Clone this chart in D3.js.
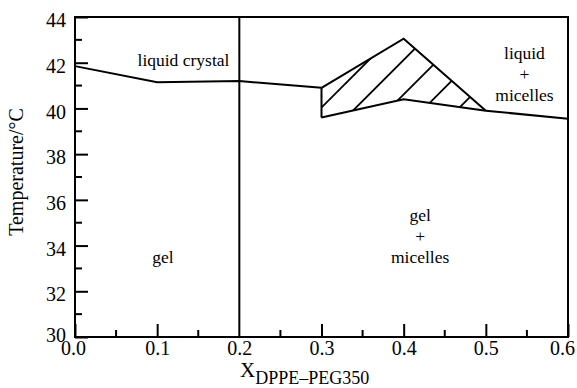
<!DOCTYPE html>
<html>
<head>
<meta charset="utf-8">
<script src="https://cdn.jsdelivr.net/npm/d3@7/dist/d3.min.js"></script>
</head>
<body style="margin:0">
<script>
// gel / liquid crystal boundary
var lcX = [0.0, 0.1, 0.2, 0.3]
var lcT = [41.85, 41.15, 41.2, 40.9]
// hatched coexistence region (upper and lower edges)
var hatchUpX = [0.3, 0.4, 0.5]
var hatchUpT = [40.9, 43.05, 39.9]
var hatchLoX = [0.3, 0.4, 0.5]
var hatchLoT = [39.6, 40.4, 39.9]
// liquid + micelles boundary
var micX = [0.5, 0.6]
var micT = [39.9, 39.55]
// vertical phase boundary
var vertX = 0.2

var xTicks = [0, 0.1, 0.2, 0.3, 0.4, 0.5, 0.6]
var xMinor = [0.05, 0.15, 0.25, 0.35, 0.45, 0.55]
var yTicks = [30, 32, 34, 36, 38, 40, 42, 44]
var yMinor = [31, 33, 35, 37, 39, 41, 43]

var FONT = "Liberation Serif"
var width = 577, height = 388
var margin = {top: 17, right: 9, bottom: 51, left: 75}

var svg = d3.select("body").append("svg").attr("width", width).attr("height", height)
    .style("font-family", FONT)

var x = d3.scaleLinear().domain([0, 0.6]).range([margin.left, width - margin.right])
var y = d3.scaleLinear().domain([30, 44]).range([height - margin.bottom, margin.top])

var line = d3.line().x(function(d){ return x(d[0]) }).y(function(d){ return y(d[1]) })

function pairs(xs, ys){ return xs.map(function(v, i){ return [v, ys[i]] }) }

// hatched polygon
var poly = pairs(hatchUpX, hatchUpT).concat(pairs(hatchLoX, hatchLoT).reverse())
svg.append("clipPath").attr("id", "hclip").append("path").attr("d", line(poly) + "Z")
var hg = svg.append("g").attr("clip-path", "url(#hclip)")
var c0 = x(0.3) + y(39.6) - 10
for (var k = 0; k < 8; k++){
    var c = c0 + k * 34.5
    hg.append("line").attr("x1", c - 300).attr("y1", 300).attr("x2", c).attr("y2", 0)
      .attr("stroke", "#000").attr("stroke-width", 1.8)
}
svg.append("path").attr("d", line(pairs(hatchUpX, hatchUpT)))
   .attr("fill", "none").attr("stroke", "#000").attr("stroke-width", 2)
svg.append("path").attr("d", line(pairs(hatchLoX, hatchLoT)))
   .attr("fill", "none").attr("stroke", "#000").attr("stroke-width", 2)
svg.append("path").attr("d", line([[0.3, hatchUpT[0]], [0.3, hatchLoT[0]]]))
   .attr("fill", "none").attr("stroke", "#000").attr("stroke-width", 2)

svg.append("path").attr("d", line(pairs(lcX, lcT)))
   .attr("fill", "none").attr("stroke", "#000").attr("stroke-width", 2)
svg.append("path").attr("d", line(pairs(micX, micT)))
   .attr("fill", "none").attr("stroke", "#000").attr("stroke-width", 2)
svg.append("line").attr("x1", x(vertX)).attr("x2", x(vertX)).attr("y1", y(30)).attr("y2", y(44))
   .attr("stroke", "#000").attr("stroke-width", 2)

// frame
svg.append("rect").attr("x", x(0)).attr("y", y(44)).attr("width", x(0.6) - x(0)).attr("height", y(30) - y(44))
   .attr("fill", "none").attr("stroke", "#000").attr("stroke-width", 2)

// axes (ticks inside)
var xAxis = d3.axisBottom(x).tickValues(xTicks).tickSize(-13).tickPadding(4).tickFormat(d3.format(".1f"))
var gx = svg.append("g").attr("transform", "translate(0," + y(30) + ")").call(xAxis)
gx.selectAll(".tick line").filter(function(d){ return d === 0.2 }).remove()
gx.append("g").selectAll("line").data(xMinor).enter().append("line")
  .attr("x1", function(d){ return x(d) }).attr("x2", function(d){ return x(d) })
  .attr("y1", 0).attr("y2", -7).attr("stroke", "#000").attr("stroke-width", 2)
gx.selectAll(".tick text").filter(function(d){ return d === 0 }).attr("dx", -2)
gx.selectAll(".tick text").filter(function(d){ return d === 0.6 }).attr("dx", -6)

var yAxis = d3.axisLeft(y).tickValues(yTicks).tickSize(-13).tickPadding(9).tickFormat(d3.format("d"))
var gy = svg.append("g").attr("transform", "translate(" + x(0) + ",0)").call(yAxis)
gy.append("g").selectAll("line").data(yMinor).enter().append("line")
  .attr("y1", function(d){ return y(d) }).attr("y2", function(d){ return y(d) })
  .attr("x1", 0).attr("x2", 7).attr("stroke", "#000").attr("stroke-width", 2)
gy.selectAll(".tick text").attr("dy", "0.48em")
gy.selectAll(".tick text").filter(function(d){ return d === 30 }).attr("dy", "0.2em")

;[gx, gy].forEach(function(g){
    g.select(".domain").remove()
    g.attr("font-family", FONT).attr("font-size", 20)
    g.selectAll(".tick line").attr("stroke", "#000").attr("stroke-width", 2)
    g.selectAll("text").style("font-family", FONT).attr("font-size", 20).attr("fill", "#000")
})

// axis titles
svg.append("text").attr("transform", "translate(23,172) rotate(-90)")
   .style("font-family", FONT).attr("text-anchor", "middle").attr("font-size", 20).text("Temperature/°C")
var xt = svg.append("text").attr("x", 240).attr("y", 377).attr("font-size", 21).style("font-family", FONT)
xt.append("tspan").text("X")
xt.append("tspan").attr("dy", 7).attr("font-size", 18).text("DPPE–PEG350")

// region labels
var labels = [
    {t: ["liquid crystal"], x: 0.132, y: 66},
    {t: ["gel"], x: 0.107, y: 263},
    {t: ["gel", "+", "micelles"], x: 0.42, y: 221},
    {t: ["liquid", "+", "micelles"], x: 0.547, y: 59}
]
labels.forEach(function(l){
    var tx = svg.append("text").attr("text-anchor", "middle").attr("font-size", 17.5).style("font-family", FONT)
    l.t.forEach(function(s, i){
        tx.append("tspan").attr("x", x(l.x)).attr("y", l.y + i * 21).text(s)
    })
})
</script>
</body>
</html>
